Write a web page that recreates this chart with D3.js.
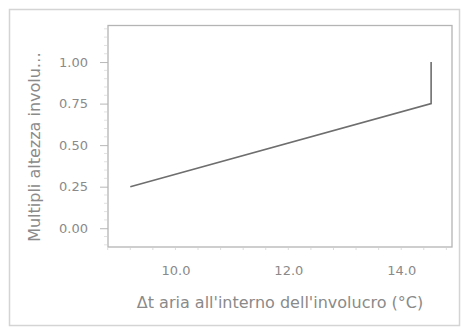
<!DOCTYPE html>
<html>
<head>
<meta charset="utf-8">
<script src="https://cdn.jsdelivr.net/npm/d3@7/dist/d3.min.js"></script>
<style>
  html, body { margin: 0; padding: 0; background: #fff; }
  svg { display: block; }
  text { font-family: "DejaVu Sans", "Liberation Sans", sans-serif; fill: #8a8a8a; }
</style>
</head>
<body>
<svg id="chart" width="462" height="329"></svg>
<script>
// Δt inside the enclosure vs. enclosure height multiplier
const deltaT = [9.2, 14.53, 14.53];
const multiplier = [0.25, 0.75, 1.0];
const xTicks = [10, 12, 14];
const yTicks = [0, 0.25, 0.5, 0.75, 1.0];
const xTitle = "Δt aria all'interno dell'involucro (°C)";
const yTitle = "Multipli altezza involu…";

const W = 462, H = 329;
const plot = { left: 108, top: 25.5, right: 452, bottom: 247 };

const svg = d3.select("#chart");

// outer card frame
svg.append("rect")
  .attr("x", 9.5).attr("y", 9.5)
  .attr("width", W - 12).attr("height", H - 13)
  .attr("fill", "#fff").attr("stroke", "#d4d4d4").attr("stroke-width", 1.5);

const x = d3.scaleLinear().domain([8.805, 14.9]).range([plot.left, plot.right]);
const y = d3.scaleLinear().domain([-0.113, 1.22]).range([plot.bottom, plot.top]);

// faint minor ticks along the x axis
const xMinor = d3.range(8.8, 14.81, 0.4);
svg.append("g")
  .selectAll("line").data(xMinor).join("line")
  .attr("x1", d => x(d)).attr("x2", d => x(d))
  .attr("y1", plot.bottom + 1).attr("y2", plot.bottom + 3)
  .attr("stroke", "#dcdcdc");

// faint minor ticks along the y axis
const yMinor = d3.range(-0.1, 1.21, 0.05).filter(v => Math.abs(v * 4 - Math.round(v * 4)) > 1e-6);
svg.append("g")
  .selectAll("line").data(yMinor).join("line")
  .attr("x1", plot.left - 4).attr("x2", plot.left - 1)
  .attr("y1", d => y(d)).attr("y2", d => y(d))
  .attr("stroke", "#e2e2e2");

// y axis: major ticks and labels
const yAxis = d3.axisLeft(y).tickValues(yTicks).tickFormat(d3.format(".2f")).tickSize(8).tickPadding(12);
const gy = svg.append("g").attr("transform", `translate(${plot.left},0)`).call(yAxis);
gy.select(".domain").remove();
gy.selectAll(".tick line").attr("stroke", "#b8b8b8");
gy.selectAll(".tick text").attr("font-size", 13).attr("fill", "#8a8a8a")
  .attr("font-family", "DejaVu Sans, sans-serif");

// x axis labels only
const xAxis = d3.axisBottom(x).tickValues(xTicks).tickFormat(d3.format(".1f")).tickSize(0).tickPadding(19);
const gx = svg.append("g").attr("transform", `translate(0,${plot.bottom})`).call(xAxis);
gx.select(".domain").remove();
gx.selectAll(".tick text").attr("font-size", 13).attr("fill", "#8a8a8a")
  .attr("font-family", "DejaVu Sans, sans-serif");

// plot frame
svg.append("rect")
  .attr("x", plot.left).attr("y", plot.top)
  .attr("width", plot.right - plot.left).attr("height", plot.bottom - plot.top)
  .attr("fill", "none").attr("stroke", "#b4b4b4").attr("stroke-width", 1.3);

// data line
const line = d3.line().x((d, i) => x(deltaT[i])).y((d, i) => y(multiplier[i]));
svg.append("path")
  .datum(deltaT)
  .attr("d", line)
  .attr("fill", "none").attr("stroke", "#6e6e6e").attr("stroke-width", 1.6);

// axis titles
svg.append("text")
  .attr("x", (plot.left + plot.right) / 2).attr("y", 308)
  .attr("text-anchor", "middle").attr("font-size", 16)
  .text(xTitle);

svg.append("text")
  .attr("transform", `translate(40,147) rotate(-90)`)
  .attr("text-anchor", "middle").attr("font-size", 16)
  .text(yTitle);
</script>
</body>
</html>
